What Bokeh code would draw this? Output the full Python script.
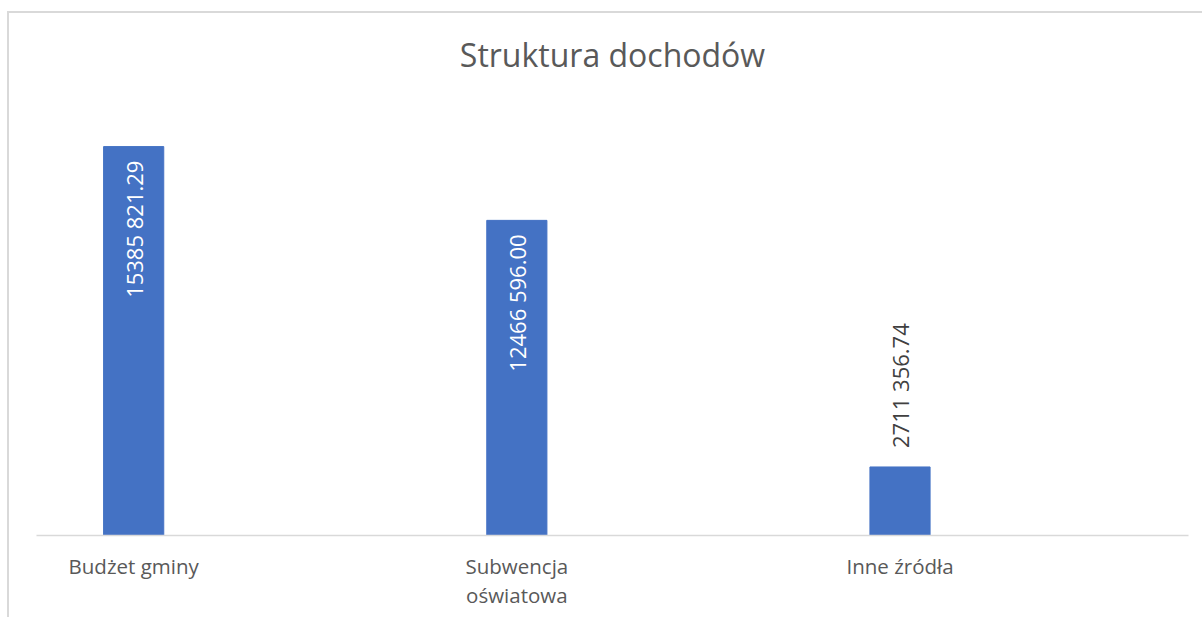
import math
from bokeh.plotting import figure
from bokeh.models import Range1d, FixedTicker, ColumnDataSource
from bokeh.core.properties import value
from bokeh.embed import file_html
from bokeh.resources import INLINE

# ---- data ----
categories = ["Budżet gminy", "Subwencja\noświatowa", "Inne źródła"]
values = [15385821.29, 12466596.00, 2711356.74]
value_labels = ["15385 821.29", "12466 596.00", "2711 356.74"]
title_text = "Struktura dochodów"

FONT = "Open Sans"
BAR_COLOR = "#4472C4"
TEXT_GRAY = "#595959"

xs = list(range(len(categories)))
inside = [v > 5_000_000 for v in values]

src_bars = ColumnDataSource(dict(x=xs, top=values))
src_in = ColumnDataSource(dict(
    x=[x for x, f in zip(xs, inside) if f],
    y=[v for v, f in zip(values, inside) if f],
    t=[t for t, f in zip(value_labels, inside) if f]))
src_out = ColumnDataSource(dict(
    x=[x for x, f in zip(xs, inside) if not f],
    y=[v for v, f in zip(values, inside) if not f],
    t=[t for t, f in zip(value_labels, inside) if not f]))

p = figure(width=1195, height=606, output_backend="svg", toolbar_location=None,
           x_range=Range1d(-0.2536, 2.7529), y_range=Range1d(0, 18_000_000),
           min_border_left=27, min_border_right=16, min_border_top=67,
           min_border_bottom=84)
p.styles = {"border-top": "2px solid #d9d9d9", "border-left": "2px solid #d9d9d9",
            "margin-left": "7px", "margin-top": "11px"}

p.title.text = title_text
p.title.align = "center"
p.title.text_font = FONT
p.title.text_font_size = "32px"
p.title.text_font_style = "normal"
p.title.text_color = TEXT_GRAY

p.vbar(x="x", top="top", bottom=0, width=0.157, color=BAR_COLOR, source=src_bars)

p.text(x="x", y="y", text="t", source=src_in, angle=math.pi / 2,
       text_align="right", text_baseline="middle", y_offset=14,
       text_font=value(FONT), text_font_size="22px", text_color="white")
p.text(x="x", y="y", text="t", source=src_out, angle=math.pi / 2,
       text_align="left", text_baseline="middle", y_offset=-19,
       text_font=value(FONT), text_font_size="22px", text_color="#404040")

p.xaxis.ticker = FixedTicker(ticks=xs)
p.xaxis.major_label_overrides = {x: c for x, c in zip(xs, categories)}
p.xaxis.major_tick_line_color = None
p.xaxis.minor_tick_line_color = None
p.xaxis.axis_line_color = "#d9d9d9"
p.xaxis.axis_line_width = 1.5
p.xaxis.major_label_text_font = FONT
p.xaxis.major_label_text_font_size = "20.5px"
p.xaxis.major_label_text_color = TEXT_GRAY
p.xaxis.major_label_text_line_height = 1.05
p.xaxis.major_label_standoff = 10
p.yaxis.visible = False
p.xgrid.visible = False
p.ygrid.visible = False
p.outline_line_color = None
p.background_fill_color = "white"
p.border_fill_color = "white"

open("out.html", "w").write(file_html(p, INLINE))
